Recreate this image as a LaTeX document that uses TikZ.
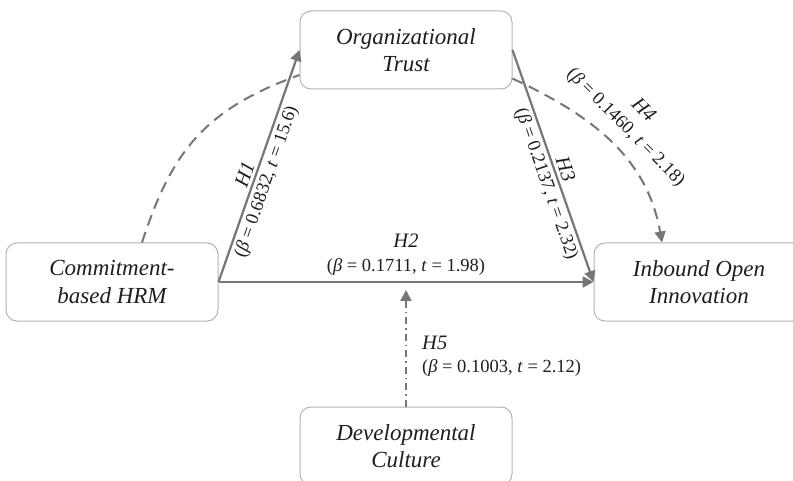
\documentclass[tikz,border=0pt]{standalone}
\usepackage{fontspec}
\setmainfont{Liberation Serif}
\usetikzlibrary{positioning, arrows.meta}
\definecolor{boxgray}{RGB}{178,178,178}
\definecolor{linegray}{RGB}{118,118,120}
\definecolor{textgray}{RGB}{30,30,30}

\begin{document}
\begin{tikzpicture}[x=1pt, y=1pt,
    construct/.style={rectangle,
        draw=boxgray,
        line width=1pt,
        rounded corners=11pt,
        minimum width=212pt,
        minimum height=78pt,
        align=center,
        text=textgray,
        font=\fontsize{23}{27.5}\selectfont\itshape,
        },
    path_solid/.style={draw=linegray,
        line width=2.2pt,
        -{Triangle[length=11pt, width=11pt]},
        },
    path_dashed/.style={draw=linegray,
        line width=2pt,
        dash pattern=on 11pt off 7pt,
        },
    path_dashdot/.style={draw=linegray,
        line width=2pt,
        dash pattern=on 7pt off 4pt on 1.5pt off 4pt,
        },
    hyp/.style={text=textgray,
        font=\fontsize{20.5}{24}\selectfont\itshape,
        inner sep=3pt,
        },
    stats/.style={text=textgray,
        font=\fontsize{18.5}{24}\selectfont,
        inner sep=3pt,
        },
    ]
    \useasboundingbox (0,0) rectangle (793,480);

    \node[construct] (n_trust) at (406,430) {Organizational\\Trust};
    \node[construct] (n_hrm) at (112,198) {Commitment-\\based HRM};
    \node[construct, minimum width=210pt] (n_inbound) at (699,198) {Inbound Open\\Innovation};
    \node[construct] (n_culture) at (406,34) {Developmental\\Culture};

    % direct paths
    \draw[path_solid] (n_hrm.east) -- 
        node[hyp, sloped, above, pos=0.45] (l_h1) {H1}
        node[stats, sloped, below, pos=0.45] (l_h1_stats) {(\textit{β} = 0.6832, \textit{t} = 15.6)}
        (n_trust.west);
    \draw[path_solid] (n_hrm.east) -- 
        node[stats, above, pos=0.5, inner sep=5pt, align=center] (l_h2) {{\fontsize{20.5}{24}\selectfont\itshape H2}\\(\textit{β} = 0.1711, \textit{t} = 1.98)}
        coordinate[pos=0.5] (h2_mid)
        (n_inbound.west);
    \draw[path_solid] (n_trust.east) -- 
        node[hyp, sloped, above, pos=0.53] (l_h3) {H3}
        node[stats, sloped, below, pos=0.56] (l_h3_stats) {(\textit{β} = 0.2137, \textit{t} = 2.32)}
        (n_inbound.west);

    % indirect paths
    \draw[path_dashed] ([xshift=30pt]n_hrm.north) to[out=72, in=200, looseness=1.1] ([yshift=-25pt]n_trust.west);
    \draw[path_dashed, -{Triangle[length=11pt, width=11pt]}] (n_trust.-15) to[out=-25, in=100]
        node[stats, sloped, above=8pt, pos=0.5, align=center] (l_h4) {{\fontsize{20.5}{24}\selectfont\itshape H4}\\(\textit{β} = 0.1460, \textit{t} = 2.18)}
        ([xshift=-37pt]n_inbound.north);

    % moderation
    \coordinate (h5_tip) at ([yshift=-8pt]h2_mid);
    \draw[path_dashdot, -{Triangle[length=11pt, width=11pt]}] (n_culture.north) -- (h5_tip);
    \node[hyp, anchor=west] (l_h5) at (419,137) {H5};
    \node[stats, anchor=west] (l_h5_stats) at (419,112) {(\textit{β} = 0.1003, \textit{t} = 2.12)};

\end{tikzpicture}
\end{document}
